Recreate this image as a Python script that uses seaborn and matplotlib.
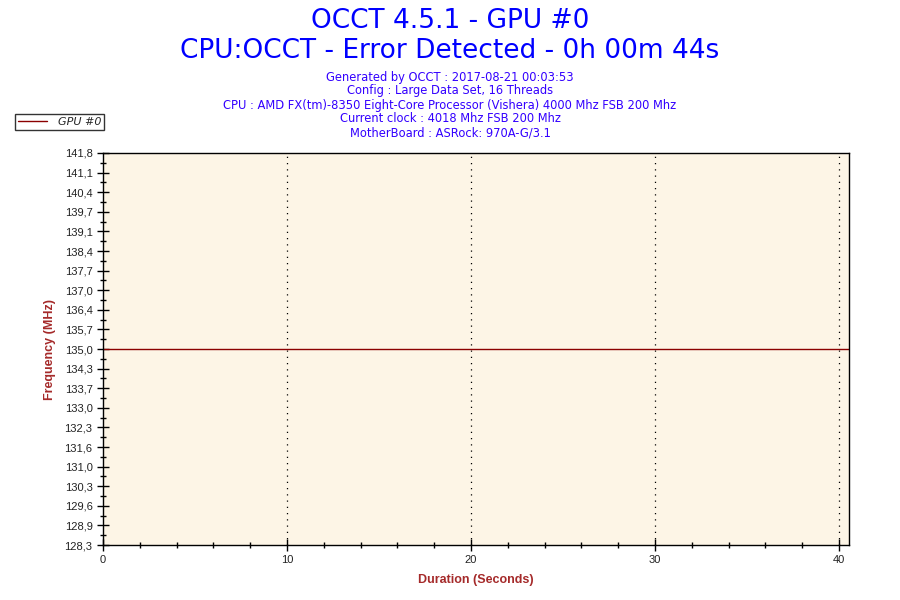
import numpy as np
import pandas as pd
import matplotlib
matplotlib.use("Agg")
import matplotlib.pyplot as plt
import seaborn as sns
from matplotlib.ticker import FixedLocator, MultipleLocator

# Data
seconds = [0, 4, 8, 12, 16, 20, 24, 28, 32, 36, 40, 41]
frequency_mhz = [135.0, 135.0, 135.0, 135.0, 135.0, 135.0, 135.0, 135.0, 135.0, 135.0, 135.0, 135.0]
series_name = "GPU #0"
y_tick_labels = ["128,3", "128,9", "129,6", "130,3", "131,0", "131,6", "132,3", "133,0",
                 "133,7", "134,3", "135,0", "135,7", "136,4", "137,0", "137,7", "138,4",
                 "139,1", "139,7", "140,4", "141,1", "141,8"]
x_tick_values = [0, 10, 20, 30, 40]

title_lines = ["OCCT 4.5.1 - GPU #0", "CPU:OCCT - Error Detected - 0h 00m 44s"]
info_lines = [
    "Generated by OCCT : 2017-08-21 00:03:53",
    "Config : Large Data Set, 16 Threads",
    "CPU : AMD FX(tm)-8350 Eight-Core Processor (Vishera) 4000 Mhz FSB 200 Mhz",
    "Current clock : 4018 Mhz FSB 200 Mhz",
    "MotherBoard : ASRock: 970A-G/3.1",
]

df = pd.DataFrame({"Duration": seconds, "Frequency": frequency_mhz, "Series": series_name})

sns.set_style("white", {"xtick.bottom": True, "ytick.left": True})
plt.rcParams["font.family"] = ["DejaVu Sans"]

fig = plt.figure(figsize=(9, 6), dpi=100)
ax = fig.add_axes([103 / 900, 1 - 545 / 600, 746 / 900, 392 / 600])
ax.set_facecolor("#FDF5E6")

sns.lineplot(data=df, x="Duration", y="Frequency", hue="Series",
             palette=["#8B0000"], linewidth=1, ax=ax, legend=False)

y_min, y_max = 128.25, 141.75
ax.set_ylim(y_min, y_max)
ax.set_xlim(0, 40.54)

y_ticks = np.linspace(y_min, y_max, len(y_tick_labels))
ax.yaxis.set_major_locator(FixedLocator(y_ticks))
ax.set_yticklabels(y_tick_labels)
ax.yaxis.set_minor_locator(FixedLocator((y_ticks[:-1] + y_ticks[1:]) / 2))
ax.set_xticks(x_tick_values)
ax.set_xticklabels([str(v) for v in x_tick_values])
ax.xaxis.set_minor_locator(MultipleLocator(2))

ax.tick_params(which="both", bottom=True, left=True, top=False, right=False)
ax.tick_params(which="major", direction="inout", length=9, width=1, color="black",
               labelsize=8, labelcolor="#222222", pad=3)
ax.tick_params(which="minor", direction="inout", length=5, width=1, color="black")
for lab in ax.get_xticklabels() + ax.get_yticklabels():
    lab.set_family(["Liberation Sans", "DejaVu Sans"])

for v in x_tick_values[1:]:
    ax.axvline(v, color="black", linestyle=(0, (1, 4)), linewidth=0.9, zorder=1)

for sp in ax.spines.values():
    sp.set_color("black")
    sp.set_linewidth(1)

ax.set_xlabel("Duration (Seconds)", color="#A52A2A", fontsize=9, fontweight="bold",
              family=["Liberation Sans", "DejaVu Sans"], labelpad=6)
ax.set_ylabel("Frequency (MHz)", color="#A52A2A", fontsize=9, fontweight="bold",
              family=["Liberation Sans", "DejaVu Sans"], labelpad=6)

# titles
fig.text(0.5, 1 - 21 / 600, title_lines[0], ha="center", va="center", fontsize=19, color="#0000FF")
fig.text(0.5, 1 - 51 / 600, title_lines[1], ha="center", va="center", fontsize=19, color="#0000FF")
for i, line in enumerate(info_lines):
    fig.text(0.5, 1 - (77 + i * 14) / 600, line, ha="center", va="center",
             fontsize=8.3, color="#3300FF")

# legend box outside the axes
handle = plt.Line2D([], [], color="#8B0000", linewidth=1)
leg = fig.legend([handle], [series_name], loc="upper left", bbox_to_anchor=(15 / 900, 1 - 114 / 600),
                 frameon=True, fancybox=False, prop={"style": "italic", "size": 8},
                 handlelength=2.6, borderpad=0.25, borderaxespad=0, handletextpad=1.0)
leg.get_frame().set_edgecolor("black")
leg.get_frame().set_linewidth(1)

fig.savefig("out.png", dpi=100)
